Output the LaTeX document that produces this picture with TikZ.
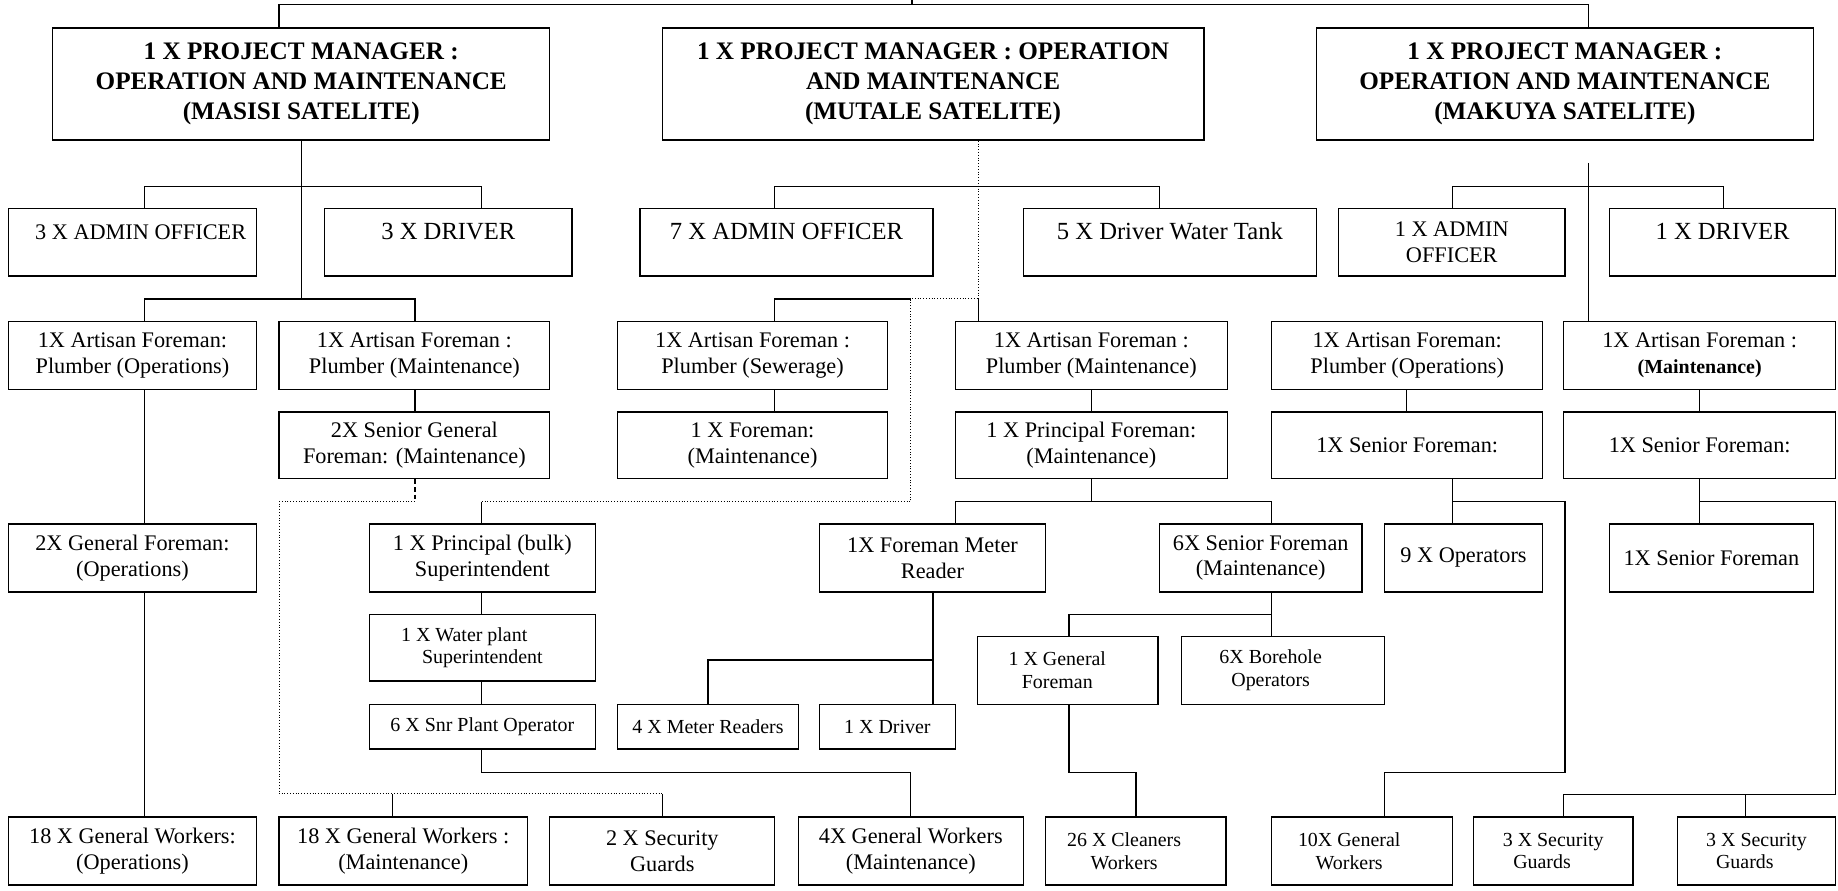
\documentclass[tikz,border=0pt]{standalone}
\usepackage{fontspec}
\setmainfont{Liberation Serif}
\newcommand\fHd{\fontsize{21.5}{25.5}\selectfont\bfseries}
\newcommand\fRg{\fontsize{19}{22}\selectfont}
\newcommand\fLg{\fontsize{21}{24}\selectfont}
\newcommand\fSm{\fontsize{17}{19.5}\selectfont}
\newcommand{\orgbox}[7]{\node[box,font=#6,minimum width={#4-#2},minimum height={#5-#3}] (#1) at ({(#2+#4)/2},{(#3+#5)/2}) {#7};}
\tikzset{
  box/.style={draw, line width=1.1pt, inner sep=0pt, align=center},
  conn/.style={line width=1.1pt},
  dotln/.style={line width=0.8pt, dash pattern=on 0.8pt off 1.6pt},
  dashln/.style={line width=1.1pt, dash pattern=on 4pt off 2.5pt},
}
\begin{document}
\begin{tikzpicture}[x=1pt,y=-1pt]
\fill[white] (0,0) rectangle (1568,760);
\useasboundingbox (0,0) rectangle (1568,760);
% row 1
\orgbox{pmA}{45}{24}{469}{119.5}{\fHd}{1 X PROJECT MANAGER :\\OPERATION AND MAINTENANCE\\(MASISI SATELITE)}
\orgbox{pmB}{565}{24}{1027}{119.5}{\fHd}{1 X PROJECT MANAGER : OPERATION\\AND MAINTENANCE\\(MUTALE SATELITE)}
\orgbox{pmC}{1123}{24}{1547}{119.5}{\fHd}{1 X PROJECT MANAGER :\\OPERATION AND MAINTENANCE\\(MAKUYA SATELITE)}
% row 2
\orgbox{admA}{7}{178}{219}{235.5}{\fRg}{\hspace*{14pt}3 X ADMIN OFFICER\\[-5pt]\mbox{}}
\orgbox{drvA}{277}{178}{488}{235.5}{\fLg}{3 X DRIVER\\[-5pt]\mbox{}}
\orgbox{admB}{546}{178}{796}{235.5}{\fLg}{7 X ADMIN OFFICER\\[-5pt]\mbox{}}
\orgbox{drvB}{873}{178}{1123}{235.5}{\fLg}{5 X Driver Water Tank\\[-5pt]\mbox{}}
\orgbox{admC}{1142}{178}{1335}{235.5}{\fRg}{1 X ADMIN\\OFFICER}
\orgbox{drvC}{1373}{178}{1566}{235.5}{\fLg}{1 X DRIVER\\[-5pt]\mbox{}}
% row 3
\orgbox{apA}{7}{274}{219}{332}{\fRg}{1X Artisan Foreman:\\Plumber (Operations)}
\orgbox{amA}{238}{274}{469}{332}{\fRg}{1X Artisan Foreman :\\Plumber (Maintenance)}
\orgbox{asB}{527}{274}{757}{332}{\fRg}{1X Artisan Foreman :\\Plumber (Sewerage)}
\orgbox{amB}{815}{274}{1047}{332}{\fRg}{1X Artisan Foreman :\\Plumber (Maintenance)}
\orgbox{apC}{1085}{274}{1316}{332}{\fRg}{1X Artisan Foreman:\\Plumber (Operations)}
\orgbox{amC}{1334}{274}{1566}{332}{\fRg}{1X Artisan Foreman :\\{\fontsize{17}{19.5}\selectfont\bfseries (Maintenance)}}
% row 4
\orgbox{sgA}{238}{351.5}{469}{408.5}{\fRg}{2X Senior General\\Foreman: (Maintenance)}
\orgbox{fmB}{527}{351.5}{757}{408.5}{\fRg}{1 X Foreman:\\(Maintenance)}
\orgbox{pfB}{815}{351.5}{1047}{408.5}{\fRg}{1 X Principal Foreman:\\(Maintenance)}
\orgbox{sfA}{1085}{351.5}{1316}{408.5}{\fRg}{1X Senior Foreman:}
\orgbox{sfB}{1334}{351.5}{1566}{408.5}{\fRg}{1X Senior Foreman:}
% row 5
\orgbox{gfA}{7}{447}{219}{505}{\fRg}{2X General Foreman:\\(Operations)}
\orgbox{pbA}{315}{447}{508}{505}{\fRg}{1 X Principal (bulk)\\Superintendent}
\orgbox{frB}{699}{447}{892}{505}{\fRg}{1X Foreman Meter\\Reader}
\orgbox{ssB}{989}{447}{1162}{505}{\fRg}{6X Senior Foreman\\(Maintenance)}
\orgbox{opC}{1181}{447}{1316}{505}{\fRg}{9 X Operators}
\orgbox{sfC}{1373}{447}{1547}{505}{\fRg}{1X Senior Foreman}
% row 6
\orgbox{wpA}{315}{524}{508}{581}{\fSm}{\hspace*{-31pt}1 X Water plant\\Superintendent}
\orgbox{gnB}{834}{543}{988}{601}{\fSm}{\hspace*{-18pt}1 X General\\\hspace*{-18pt}Foreman}
\orgbox{bhB}{1008}{543}{1181}{601}{\fSm}{\hspace*{-21pt}6X Borehole\\\hspace*{-21pt}Operators}
% row 7
\orgbox{spA}{315}{601}{508}{639}{\fSm}{6 X Snr Plant Operator}
\orgbox{mrB}{527}{601}{681}{639}{\fSm}{4 X Meter Readers}
\orgbox{dvB}{699}{601}{815}{639}{\fSm}{1 X Driver}
% row 8
\orgbox{gwA1}{7}{697}{219}{755}{\fRg}{18 X General Workers:\\(Operations)}
\orgbox{gwA2}{238}{697}{450}{755}{\fRg}{18 X General Workers :\\(Maintenance)}
\orgbox{sgdA}{469}{697}{661}{755}{\fRg}{2 X Security\\Guards}
\orgbox{gwB}{681}{697}{873}{755}{\fRg}{4X General Workers\\(Maintenance)}
\orgbox{clB}{892}{697}{1046}{755}{\fSm}{\hspace*{-20pt}26 X Cleaners\\\hspace*{-20pt}Workers}
\orgbox{gwC}{1085}{697}{1239}{755}{\fSm}{\hspace*{-22pt}10X General\\\hspace*{-22pt}Workers}
\orgbox{secA}{1257}{697}{1393}{755}{\fSm}{3 X Security\\\hspace*{-19pt}Guards}
\orgbox{secB}{1431}{697}{1566}{755}{\fSm}{3 X Security\\\hspace*{-20pt}Guards}
% top connectors
\coordinate (topin) at (778,0);
\draw[conn] (topin) -- (778,4);
\draw[conn] (pmA.north -| 238,0) -- (238,4) -- (1355,4) -- (pmC.north -| 1355,0);
% Masisi
\draw[conn] (pmA.south) -- (257,255);
\draw[conn] (admA.north -| 123,0) |- (411,159) -- (drvA.north -| 411,0);
\draw[conn] (apA.north -| 123,0) |- (354,255) -- (amA.north -| 354,0);
\draw[conn] (apA.south -| 123,0) -- (gfA.north -| 123,0);
\draw[conn] (gfA.south -| 123,0) -- (gwA1.north -| 123,0);
\draw[conn] (amA.south -| 354,0) -- (sgA.north -| 354,0);
\draw[dashln] (sgA.south -| 354,0) -- (354,428);
\draw[dotln] (354,428) -- (238,428) -- (238,677) -- (565,677);
\draw[conn] (gwA2.north -| 335,0) -- (335,677);
\draw[conn] (sgdA.north -| 565,0) -- (565,677);
\draw[conn] (pbA.north -| 411,0) -- (411,428);
\draw[dotln] (411,428) -- (777,428) -- (777,255) -- (835,255);
\draw[dotln] (pmB.south -| 835,0) -- (835,255);
\draw[conn] (835,255) -- (amB.north -| 835,0);
\draw[conn] (pbA.south -| 411,0) -- (wpA.north -| 411,0);
\draw[conn] (wpA.south -| 411,0) -- (spA.north -| 411,0);
\draw[conn] (spA.south -| 411,0) |- (777,659) -- (gwB.north -| 777,0);
% Mutale
\draw[conn] (admB.north -| 661,0) |- (989,159) -- (drvB.north -| 989,0);
\draw[conn] (asB.north -| 661,0) |- (777,255);
\draw[conn] (asB.south -| 661,0) -- (fmB.north -| 661,0);
\draw[conn] (amB.south -| 931,0) -- (pfB.north -| 931,0);
\draw[conn] (pfB.south -| 931,0) -- (931,428);
\draw[conn] (frB.north -| 815,0) |- (1085,428) -- (ssB.north -| 1085,0);
\draw[conn] (frB.south -| 796,0) -- (dvB.north -| 796,0);
\draw[conn] (mrB.north -| 604,0) |- (796,563);
\draw[conn] (gnB.north -| 912,0) |- (1085,524);
\draw[conn] (ssB.south -| 1085,0) -- (bhB.north -| 1085,0);
\draw[conn] (gnB.south -| 912,0) |- (969,659) -- (clB.north -| 969,0);
% Makuya
\coordinate (mkTop) at (1355,139);
\draw[conn] (mkTop) -- (amC.north -| 1355,0);
\draw[conn] (admC.north -| 1239,0) |- (1470,159) -- (drvC.north -| 1470,0);
\draw[conn] (apC.south -| 1200,0) -- (sfA.north -| 1200,0);
\draw[conn] (amC.south -| 1450,0) -- (sfB.north -| 1450,0);
\draw[conn] (sfA.south -| 1239,0) -- (opC.north -| 1239,0);
\draw[conn] (1239,428) -| (1335,659) -| (gwC.north -| 1181,0);
\draw[conn] (sfB.south -| 1450,0) -- (sfC.north -| 1450,0);
\draw[conn] (1450,428) -| (1566,678) -| (secA.north -| 1334,0);
\draw[conn] (secB.north -| 1489,0) -- (1489,678);
\end{tikzpicture}
\end{document}
